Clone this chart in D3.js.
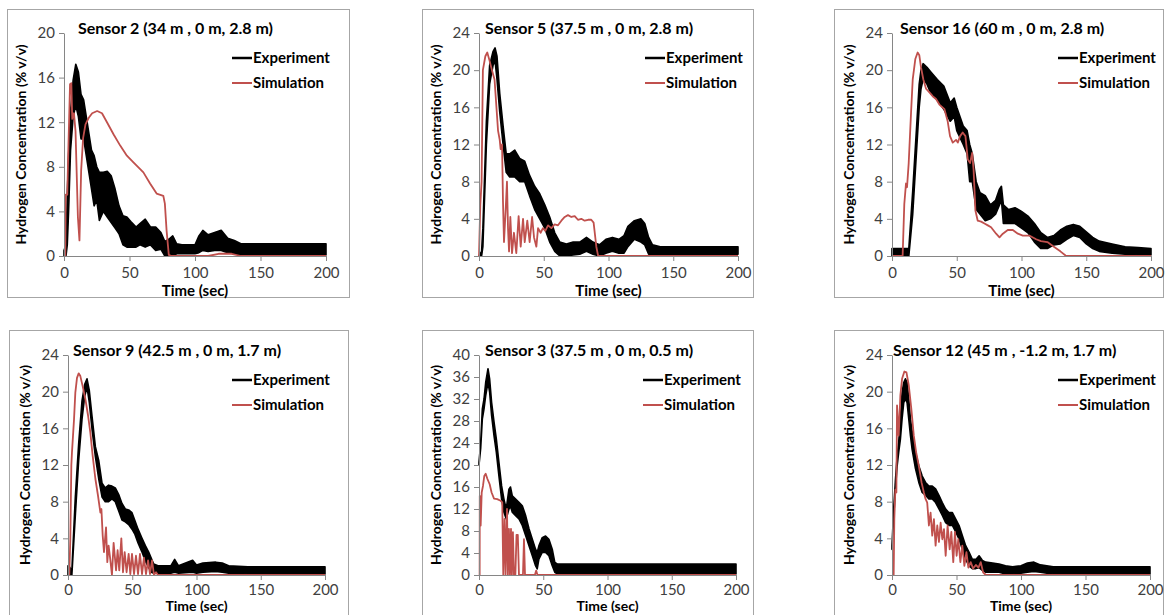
<!DOCTYPE html>
<html>
<head>
<meta charset="utf-8">
<script src="https://cdn.jsdelivr.net/npm/d3@7"></script>
<style>
  body { margin: 0; background: #fff; }
  svg { display: block; font-family: Lato, "Open Sans", sans-serif; }
</style>
</head>
<body>
<svg id="chart" width="1166" height="615"></svg>
<script>
// Sensor 2 (34 m, 0 m, 2.8 m)
const s2ExpT  = [0, 1.5, 2.5, 3.5, 5, 7, 9, 11, 13, 15, 17, 19, 21, 23, 25, 27, 30, 33, 36, 39, 42, 45, 48, 51, 55, 58, 62, 66, 70, 74, 77, 80, 83, 86, 90, 95, 100, 103, 106, 110, 115, 120, 125, 130, 135, 140, 150, 160, 170, 180, 190, 200];
const s2ExpLo = [0, 0, 1, 4, 9.5, 12.5, 13.5, 12.5, 10.5, 10.5, 9, 7.5, 6, 4.5, 5, 3.2, 4, 3.5, 3, 2.5, 2, 1, 0.8, 0.8, 0.8, 1, 0.8, 1, 0.5, 0.6, 0, 0, 0, 0.2, 0.2, 0.2, 0.2, 0.3, 0.5, 0.4, 0.5, 0.5, 0.3, 0.2, 0.1, 0.1, 0.1, 0.1, 0.1, 0.1, 0.1, 0.1];
const s2ExpHi = [0.5, 1, 5.5, 9, 13, 15.8, 17.2, 16.5, 14.5, 14, 12.5, 11, 9.5, 9, 8, 7.5, 7.5, 7.6, 7.2, 6, 4.5, 3.6, 3.5, 3.1, 2.6, 2.9, 3.3, 2.6, 2.6, 2.1, 1.3, 1.5, 1.8, 1.1, 1.0, 1.0, 1.0, 1.8, 2.3, 1.9, 2.1, 2.3, 1.6, 1.4, 1.1, 1.1, 1.1, 1.1, 1.1, 1.1, 1.1, 1.1];
const s2SimT  = [0, 1, 1.3, 2.5, 3.2, 4.6, 5.6, 6.3, 7.6, 8.8, 10.6, 11.8, 13.1, 14.6, 16.4, 18.9, 21.5, 25.3, 29, 32.8, 37.9, 42.9, 48, 53, 60.6, 65.7, 70.7, 75.8, 77, 78.3, 80, 82, 110, 118, 128, 135, 200];
const s2SimV  = [0, 0, 5.5, 5.5, 9, 15.4, 15.5, 12.3, 12.8, 11.2, 3.5, 1.4, 7.7, 10.6, 11.8, 12.4, 12.8, 13.0, 12.8, 12.0, 10.9, 9.9, 9.0, 8.4, 7.5, 6.5, 5.6, 5.4, 4.7, 2.3, 0.1, 0, 0, 0.2, 0.2, 0, 0];

// Sensor 5 (37.5 m, 0 m, 2.8 m)
const s5ExpT  = [0, 2, 3, 5.7, 8.2, 10.8, 12.4, 13.9, 16, 18.6, 21, 23.7, 27.6, 31.4, 35.3, 39, 43, 46.9, 50.8, 54.6, 58.5, 62.4, 67.5, 72.7, 77.8, 83, 88, 93, 98, 103, 108, 112, 115, 120, 125, 128, 131, 134, 140, 150, 160, 170, 180, 190, 200];
const s5ExpLo = [0, 0, 1, 12, 18.5, 20.5, 21, 19, 15.5, 12, 9, 8.5, 8.5, 8, 8, 6.5, 5, 4, 3, 1.5, 0.5, 0, 0, 0.1, 0.2, 0.5, 0.2, 0, 0.3, 0.5, 0.3, 0.3, 1.0, 1.8, 1.5, 1.2, 0.2, 0.2, 0.2, 0.2, 0.2, 0.2, 0.2, 0.2, 0.2];
const s5ExpHi = [0, 0.5, 3, 14.5, 20.5, 22, 22.4, 21.5, 17.5, 14, 11, 11, 11.4, 10.5, 10.2, 8.7, 7.5, 6.7, 5.5, 4.2, 2.5, 1.5, 1.3, 1.5, 1.5, 2.0, 1.5, 1.2, 1.8, 2.0, 1.8, 2.2, 3.2, 3.8, 4.0, 3.5, 2.0, 1.2, 1.0, 1.0, 1.0, 1.0, 1.0, 1.0, 1.0];
const s5SimT  = [0, 1, 2, 3, 4.9, 6.4, 8.2, 10, 12, 14.7, 16, 16.7, 17.8, 18.5, 19.3, 20.6, 21.6, 22.4, 23.2, 24.2, 25.5, 27, 28.8, 30.6, 32.2, 34, 35.3, 37.3, 39.1, 41, 42.5, 44.3, 45.6, 47.6, 49.4, 51.2, 53.3, 55.9, 58.4, 61, 63.6, 66.2, 68.7, 71.3, 73.9, 76.4, 79, 81.6, 84.2, 86.7, 88.5, 90.6, 92, 200];
const s5SimV  = [0, 5.5, 8, 20, 21.5, 21.9, 21, 20, 19, 13.5, 12.5, 11.5, 12, 6, 1.5, 5, 8, 3, 0.5, 4.2, 0.3, 2.5, 0.3, 4.3, 1.0, 4.0, 1.5, 3.8, 1.5, 4.2, 2, 1, 3, 2.5, 3, 2.7, 3.3, 3, 3.4, 3.3, 3.8, 4.2, 4.4, 4.2, 4.3, 3.9, 4.0, 3.8, 3.9, 3.9, 3.6, 1.0, 0, 0];

// Sensor 16 (60 m, 0 m, 2.8 m)
const s16ExpT  = [0, 13, 16, 18.6, 21, 22.4, 24, 27, 30, 35, 40, 45, 48, 50, 55, 58, 60, 62, 65, 68, 72, 76, 80, 83, 84.5, 86, 90, 95, 100, 105, 110, 115, 120, 125, 130, 135, 140, 145, 150, 155, 160, 170, 180, 190, 200];
const s16ExpLo = [0, 0, 4.5, 10.5, 16, 18, 19, 18.5, 17.5, 16.8, 15.8, 14.5, 15, 13.5, 12, 11, 8, 8, 5, 4.5, 3.8, 4, 4.5, 5.5, 6, 3.5, 3.5, 3.5, 3, 2.5, 1.5, 0.8, 0.8, 1.2, 1.3, 1.8, 2.2, 2, 1.3, 0.8, 0.5, 0.3, 0.2, 0.1, 0.1];
const s16ExpHi = [0.8, 0.8, 7, 13, 18.5, 20, 20.7, 20.3, 19.8, 19, 18.3, 16.5, 17, 16, 14, 13.5, 12, 11, 8, 6.8, 6.5, 5.5, 6, 7.2, 7.5, 5.5, 5, 5.2, 4.8, 4.3, 3.5, 2.5, 2, 2.2, 2.8, 3.2, 3.4, 3.2, 2.6, 2, 1.6, 1.3, 1.0, 0.9, 0.8];
const s16SimT  = [0, 8.2, 9.5, 10.8, 11.6, 12.9, 14.7, 16, 18, 19.8, 21.1, 22.4, 24.2, 26.3, 28.9, 31.4, 34, 36.6, 40.5, 43, 44.8, 46.9, 49.5, 50.8, 52.6, 54.6, 56.7, 58.5, 60.3, 61.9, 63, 64.4, 66.2, 68.8, 71.4, 74, 76.5, 80.4, 83, 85.6, 89.4, 93.3, 97.2, 101, 106, 111.3, 115, 120, 125, 130, 134, 136, 200];
const s16SimV  = [0, 0, 5.6, 7.8, 7.4, 10, 15.4, 19, 21.2, 21.9, 21.6, 20.3, 19, 18, 17.6, 17.2, 16.9, 16.3, 15.8, 14.5, 12.9, 12.2, 12.5, 12.2, 12.9, 13.3, 12.9, 10.4, 10, 11.1, 9.3, 4.9, 3.8, 3.7, 3.5, 3.3, 3.1, 2.4, 2.0, 2.4, 2.8, 2.8, 2.4, 2.2, 2.2, 1.8, 1.6, 1.5, 1.0, 0.5, 0.05, 0, 0];

// Sensor 9 (42.5 m, 0 m, 1.7 m)
const s9ExpT  = [0, 0.5, 3, 5.7, 8.3, 10.9, 13, 14.8, 16.6, 18.7, 21.3, 23.9, 26.5, 29, 31.6, 34.2, 36.8, 39.4, 42, 44.6, 47.2, 49.8, 51.9, 54.5, 57.6, 60.2, 62.8, 64.9, 66.7, 70, 80, 83, 86, 97, 100, 105, 115, 120, 125, 140, 160, 180, 200];
const s9ExpLo = [0, 0, 0, 6.5, 12.5, 17, 19.5, 20.5, 18.8, 15.9, 12.9, 10.5, 8.5, 8, 8, 8.3, 8, 7, 6, 5.8, 5.5, 5, 4.5, 3.5, 2.5, 1.5, 0.8, 0.3, 0.2, 0.2, 0.2, 0.3, 0.2, 0.3, 0.2, 0.3, 0.4, 0.3, 0.2, 0.1, 0.1, 0.1, 0.1];
const s9ExpHi = [1, 1, 0.5, 8.5, 14.3, 19, 20.8, 21.4, 20.1, 17.3, 14, 12.5, 10, 9.5, 9.8, 9.7, 9.5, 8.8, 7.8, 7.2, 7.1, 6.8, 6, 5, 4, 3.2, 2.5, 1.8, 1.2, 1.0, 1.0, 1.7, 1.0, 1.6, 1.1, 1.3, 1.4, 1.3, 1.0, 0.9, 0.9, 0.9, 0.9];
const s9SimT  = [0, 1, 1.8, 2.6, 3.1, 3.9, 4.7, 5.7, 7, 8.3, 9.6, 11.4, 13.5, 15.6, 17.4, 19.2, 21.3, 23.3, 25.2, 26, 27, 28, 29.6, 30.6, 31.6, 32.9, 34.2, 35.5, 37.4, 38.6, 39.9, 41.5, 42.8, 44.1, 45.6, 47.2, 48.5, 49.8, 51.4, 52.9, 54.5, 56, 57.6, 59.1, 60.7, 62.3, 63.8, 65.4, 66.9, 68.5, 70, 200];
const s9SimV  = [0, 0, 3.9, 12, 13.4, 15.2, 17, 19.9, 21.5, 22, 21.7, 20.6, 19.2, 17.4, 15.5, 13, 10.5, 8.7, 6.8, 7.2, 4.3, 2.5, 5.2, 1.4, 3.2, 1.7, 0, 3.5, 0.5, 2.7, 0.5, 4.0, 0.3, 2.5, 0.3, 2.3, 0.1, 2.3, 0.1, 2.1, 0.1, 2.3, 0.1, 1.9, 0.1, 1.6, 0.1, 1.6, 0, 0.3, 0, 0];

// Sensor 3 (37.5 m, 0 m, 0.5 m)
const s3ExpT  = [0, 1.3, 2.6, 3.9, 5.2, 7, 8.3, 9.8, 11.7, 13.5, 15.5, 17.6, 19.4, 21.2, 23.3, 24.5, 25.9, 28.5, 31.1, 33.7, 36.3, 38.9, 41.5, 44, 45.3, 46.6, 49.2, 51.8, 54.4, 57, 59, 60.9, 70, 100, 130, 160, 200];
const s3ExpLo = [20, 23, 28.4, 30.2, 32.6, 35, 33.2, 29, 25.3, 22.3, 18, 13.8, 11.4, 10.2, 12, 12.5, 11.4, 10.8, 10.2, 9, 7.2, 5.3, 3.5, 1.7, 1.1, 2.9, 4.1, 4.1, 3.5, 1.7, 0.5, 0.2, 0.2, 0.2, 0.2, 0.2, 0.2];
const s3ExpHi = [20.5, 24, 30.2, 32, 35, 37.5, 35.6, 31.4, 27.8, 24.7, 20.5, 16.2, 13.8, 12, 15.6, 16, 14.4, 13.8, 13.2, 12.6, 10.8, 8.4, 6.5, 4.7, 4.1, 5.3, 6.8, 7.1, 6.5, 4.7, 2.3, 2.0, 2.0, 2.0, 2.0, 2.0, 2.0];
const s3SimT  = [0, 0.5, 0.6, 1.3, 2.1, 3.1, 4.1, 5.2, 6.5, 8.3, 9.8, 11.7, 14.2, 16.8, 18.1, 18.9, 19.9, 20.7, 21.8, 22.5, 23.3, 24.1, 24.9, 25.6, 26.4, 27.2, 28.3, 29.2, 30.2, 31.1, 34.2, 35, 35.8, 43.5, 44.5, 45.5, 200];
const s3SimV  = [0, 0, 14.4, 9, 15, 16.2, 18, 18.4, 17.5, 16.5, 15, 13.9, 13.8, 13.5, 13.2, 0, 10.2, 0, 12, 0, 8.4, 0, 8.4, 0, 7.8, 0, 0, 7.3, 7.3, 0, 0, 6.5, 0, 0, 0.8, 0, 0];

// Sensor 12 (45 m, -1.2 m, 1.7 m)
const s12ExpT  = [0, 1.3, 2.6, 3.9, 5.2, 6.5, 7.8, 9.1, 10.4, 11.7, 13, 14.3, 15.6, 18.2, 20.8, 23.4, 26, 28.6, 31.2, 33.8, 36.4, 39, 41.6, 44.2, 46.8, 49.4, 52, 54.5, 57.1, 59.7, 62.3, 65, 67.5, 70, 72.7, 78, 83, 88, 93.5, 100, 105, 110, 115, 125, 150, 175, 200];
const s12ExpLo = [2.8, 6.3, 9.2, 11.8, 13.4, 14.8, 17, 18.8, 19.2, 18.8, 17, 15.2, 13.7, 11.6, 10.1, 9, 8.7, 8.3, 8.3, 7.9, 7.2, 6.5, 5.7, 5.4, 5.4, 4.7, 3.9, 2.8, 1.7, 1.0, 0.7, 0.7, 0.8, 0.5, 0.3, 0.3, 0.3, 0.1, 0.1, 0.2, 0.3, 0.4, 0.3, 0.1, 0.1, 0.1, 0.1];
const s12ExpHi = [3.2, 7.2, 10.2, 12.8, 14.5, 17, 19.9, 21, 21.4, 21, 19.2, 17, 15.7, 13.4, 11.9, 10.8, 10.1, 9.7, 9.7, 9.4, 8.7, 7.9, 7.2, 6.8, 6.8, 6.1, 5.4, 4.3, 3.2, 2.5, 1.7, 1.7, 2.1, 1.6, 1.4, 1.3, 1.2, 1.0, 0.9, 1.0, 1.3, 1.4, 1.1, 0.9, 0.9, 0.9, 0.9];
const s12SimT  = [0, 1.3, 1.8, 2.6, 3.4, 3.9, 5.2, 6.5, 7.8, 9.6, 11.2, 13, 15, 16.9, 18.7, 20.8, 22.9, 24.7, 26, 27.3, 28.6, 29.9, 31.2, 32.5, 33.8, 35.1, 36.4, 37.7, 39, 40.3, 41.6, 43.1, 44.7, 46, 47.5, 48.8, 50.1, 51.4, 53, 54.5, 56.1, 57.7, 59.2, 61, 62.9, 65, 67, 68.8, 70.6, 72.7, 200];
const s12SimV  = [0, 0, 6.1, 9.3, 9.0, 18.5, 15.2, 19.6, 21.4, 22.2, 22.1, 20.7, 18.1, 15.2, 13.4, 11.9, 10.1, 9, 8.3, 7.9, 5.4, 6.8, 4.3, 6.1, 3.2, 5.4, 3.6, 5.7, 3.9, 5, 2.1, 5.4, 2.8, 4.7, 1.4, 4.7, 2.1, 3.9, 1.4, 3.2, 1.0, 2.5, 0.8, 1.4, 0.7, 1.1, 0.8, 1.4, 0.3, 0, 0];

const xTicks = [0, 50, 100, 150, 200];
const yTicks20 = [0, 4, 8, 12, 16, 20];
const yTicks24 = [0, 4, 8, 12, 16, 20, 24];
const yTicks40 = [0, 4, 8, 12, 16, 20, 24, 28, 32, 36, 40];

const seriesNames = ["Experiment", "Simulation"];
const yLabel = "Hydrogen Concentration (% v/v)";
const xLabel = "Time (sec)";

const zip = (t, a) => t.map((d, i) => ({ t: d, v: a[i] }));
const zipBand = (t, lo, hi) => t.map((d, i) => ({ t: d, lo: lo[i], hi: hi[i] }));

// panel layout (pixels) + data; bottom row is cut by the window edge, so its x labels sit tighter
const panels = [
  { title: "Sensor 2 (34 m , 0 m, 2.8 m)", frame: [7, 9, 342, 288], x0: 64, x1: 326, y0: 256, y1: 33, yMax: 20, yTicks: yTicks20, titleX: 78, legX: 232, pad: 6, xLabY: 40, xLabSize: 15,
    exp: zipBand(s2ExpT, s2ExpLo, s2ExpHi), sim: zip(s2SimT, s2SimV) },
  { title: "Sensor 5 (37.5 m , 0 m, 2.8 m)", frame: [422, 9, 331, 288], x0: 479, x1: 738, y0: 256, y1: 33, yMax: 24, yTicks: yTicks24, titleX: 485, legX: 645, pad: 6, xLabY: 40, xLabSize: 15,
    exp: zipBand(s5ExpT, s5ExpLo, s5ExpHi), sim: zip(s5SimT, s5SimV) },
  { title: "Sensor 16 (60 m , 0 m, 2.8 m)", frame: [834, 9, 329, 288], x0: 892, x1: 1151, y0: 256, y1: 33, yMax: 24, yTicks: yTicks24, titleX: 900, legX: 1058, pad: 6, xLabY: 40, xLabSize: 15,
    exp: zipBand(s16ExpT, s16ExpLo, s16ExpHi), sim: zip(s16SimT, s16SimV) },
  { title: "Sensor 9 (42.5 m , 0 m, 1.7 m)", frame: [9, 330, 339, 320], x0: 68, x1: 325, y0: 575, y1: 355, yMax: 24, yTicks: yTicks24, titleX: 73, legX: 232, pad: 4, xLabY: 36, xLabSize: 14,
    exp: zipBand(s9ExpT, s9ExpLo, s9ExpHi), sim: zip(s9SimT, s9SimV) },
  { title: "Sensor 3 (37.5 m , 0 m, 0.5 m)", frame: [422, 330, 331, 320], x0: 479, x1: 736, y0: 575, y1: 355, yMax: 40, yTicks: yTicks40, titleX: 485, legX: 643, pad: 4, xLabY: 36, xLabSize: 14,
    exp: zipBand(s3ExpT, s3ExpLo, s3ExpHi), sim: zip(s3SimT, s3SimV) },
  { title: "Sensor 12 (45 m , -1.2 m, 1.7 m)", frame: [834, 330, 329, 320], x0: 892, x1: 1150, y0: 575, y1: 355, yMax: 24, yTicks: yTicks24, titleX: 893, legX: 1058, pad: 4, xLabY: 36, xLabSize: 14,
    exp: zipBand(s12ExpT, s12ExpLo, s12ExpHi), sim: zip(s12SimT, s12SimV) }
];

const svg = d3.select("#chart");
const red = "#c0504d";
const axisGrey = "#868686";

panels.forEach(p => {
  const g = svg.append("g");

  g.append("rect")
    .attr("x", p.frame[0] + 0.5).attr("y", p.frame[1] + 0.5)
    .attr("width", p.frame[2]).attr("height", p.frame[3])
    .attr("fill", "none").attr("stroke", "#a6a6a6");

  const x = d3.scaleLinear().domain([0, 200]).range([p.x0, p.x1]);
  const y = d3.scaleLinear().domain([0, p.yMax]).range([p.y0, p.y1]);

  // experiment: noisy band drawn as its envelope
  const band = d3.area()
    .x(d => x(d.t))
    .y0(d => y(d.lo))
    .y1(d => y(d.hi));
  g.append("path")
    .datum(p.exp)
    .attr("d", band)
    .attr("fill", "#000")
    .attr("stroke", "#000")
    .attr("stroke-width", 1.6)
    .attr("stroke-linejoin", "round");

  const line = d3.line().x(d => x(d.t)).y(d => y(d.v));
  g.append("path")
    .datum(p.sim)
    .attr("d", line)
    .attr("fill", "none")
    .attr("stroke", red)
    .attr("stroke-width", 1.8)
    .attr("stroke-linejoin", "round");

  const yAxis = g.append("g")
    .attr("transform", `translate(${p.x0},0)`)
    .call(d3.axisLeft(y).tickValues(p.yTicks).tickSize(5).tickSizeOuter(0).tickPadding(4));
  const xAxis = g.append("g")
    .attr("transform", `translate(0,${p.y0})`)
    .call(d3.axisBottom(x).tickValues(xTicks).tickSize(5).tickSizeOuter(0).tickPadding(p.pad));

  [xAxis, yAxis].forEach(a => {
    a.select(".domain").attr("stroke", axisGrey);
    a.selectAll(".tick line").attr("stroke", axisGrey);
    a.selectAll(".tick text")
      .attr("fill", "#404040")
      .style("font-family", "Lato, sans-serif")
      .style("font-size", "15px");
  });

  g.append("text")
    .attr("x", p.titleX).attr("y", p.y1 + 1)
    .attr("font-size", 16).attr("font-weight", "bold").attr("fill", "#000")
    .text(p.title);

  g.append("text")
    .attr("transform", `translate(${p.x0 - 43},${(p.y0 + p.y1) / 2}) rotate(-90)`)
    .attr("dy", "0.35em")
    .attr("text-anchor", "middle")
    .attr("font-size", 14).attr("font-weight", "bold")
    .text(yLabel);

  g.append("text")
    .attr("x", (p.x0 + p.x1) / 2).attr("y", p.y0 + p.xLabY)
    .attr("text-anchor", "middle")
    .attr("font-size", p.xLabSize).attr("font-weight", "bold")
    .text(xLabel);

  // legend
  const legY = p.y1 + 25;
  seriesNames.forEach((name, i) => {
    const ly = legY + i * 25;
    g.append("line")
      .attr("x1", p.legX).attr("x2", p.legX + 20)
      .attr("y1", ly).attr("y2", ly)
      .attr("stroke", i === 0 ? "#000" : red)
      .attr("stroke-width", i === 0 ? 2.5 : 2);
    g.append("text")
      .attr("x", p.legX + 21).attr("y", ly)
      .attr("dy", "0.35em")
      .attr("font-size", 15).attr("font-weight", "bold")
      .text(name);
  });
});
</script>
</body>
</html>
